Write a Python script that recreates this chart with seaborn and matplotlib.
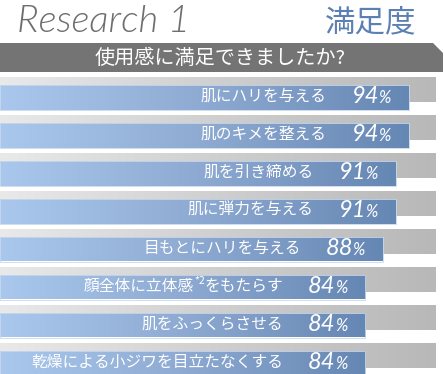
import seaborn as sns
import matplotlib.pyplot as plt
import matplotlib.patches as mpatches
from matplotlib.colors import LinearSegmentedColormap
import numpy as np
import pandas as pd

sns.set_style("white")
plt.rcParams['font.family'] = ['Noto Sans CJK JP', 'DejaVu Sans']

# data
items = ["肌にハリを与える", "肌のキメを整える", "肌を引き締める", "肌に弾力を与える",
         "目もとにハリを与える", "顔全体に立体感*2をもたらす", "肌をふっくらさせる",
         "乾燥による小ジワを目立たなくする"]
pct = [94, 94, 91, 91, 88, 84, 84, 84]
full = [100] * len(items)

title_en = "Research 1"
title_jp = "満足度"
question = "使用感に満足できましたか?"

# layout in pixels (axes y unit = 1 px)
W, H = 444, 374
px_per_pct = 4.35
row0, pitch, bar_h, shift = 89.5, 38, 25, 7.5

rows = np.arange(len(items))
df = pd.DataFrame({
    "item": items,
    "pct": pct,
    "full": full,
    "y_back": row0 + pitch * rows,
    "y_front": row0 + shift + pitch * rows,
})

fig = plt.figure(figsize=(W / 100, H / 100), dpi=100)
ax = fig.add_axes([0, 0, 1, 1])

sns.barplot(data=df, x="full", y="y_back", orient="h", native_scale=True,
            width=bar_h / pitch, color="#d0d0d0", linewidth=0, ax=ax)
n_back = len(ax.patches)
sns.barplot(data=df, x="pct", y="y_front", orient="h", native_scale=True,
            width=bar_h / pitch, color="#8aa8d0", edgecolor="#c8d8ee",
            linewidth=0.6, ax=ax)

gray_cm = LinearSegmentedColormap.from_list("g", ["#e9e9e9", "#cfcfcf", "#b8b8b9"])
blue_cm = LinearSegmentedColormap.from_list("b", ["#aac8ed", "#8eaad2", "#6587b3"])
grad = np.linspace(0, 1, 256).reshape(1, -1)
for i, p in enumerate(list(ax.patches)):
    x0, y0, w, h = p.get_x(), p.get_y(), p.get_width(), p.get_height()
    cm = gray_cm if i < n_back else blue_cm
    im = ax.imshow(grad, cmap=cm, aspect="auto", extent=(x0, x0 + w, y0 + h, y0),
                   zorder=p.get_zorder() + 0.1 + (0.5 if i >= n_back else 0),
                   interpolation="bilinear")
    im.set_clip_path(p)
    if i >= n_back:
        p.set_zorder(p.get_zorder() + 0.8)
        p.set_facecolor("none")

ax.set_xlim(0, W / px_per_pct)
ax.set_ylim(H, 0)
ax.axis("off")

num_font = ["Lato", "DejaVu Sans"]

# header
ax.text(17 / px_per_pct, 32, title_en, fontsize=27.5, color="#6e6e6e",
        family=num_font, fontweight=300, style="italic",
        va="baseline", ha="left")
ax.text(416 / px_per_pct, 31, title_jp, fontsize=22, color="#5b80b3",
        va="baseline", ha="right")
hdr = mpatches.Polygon([(0, 43), (433 / px_per_pct, 43), (443 / px_per_pct, 53),
                        (443 / px_per_pct, 72), (0, 72)], closed=True,
                       facecolor="#747474", edgecolor="none", zorder=5)
ax.add_patch(hdr)
ax.text(220 / px_per_pct, 58, question, fontsize=14.5, color="white",
        ha="center", va="center", zorder=6)

# labels and values
for _, r in df.iterrows():
    yc = r["y_front"]
    ax.annotate("%", (r["pct"], yc), xytext=(-18, -6), textcoords="offset pixels",
                ha="right", va="baseline", fontsize=12, color="white", style="italic",
                family=num_font, zorder=10)
    ax.annotate(str(r["pct"]), (r["pct"], yc), xytext=(-30, -6), textcoords="offset pixels",
                ha="right", va="baseline", fontsize=17, color="white", style="italic",
                family=num_font, zorder=10)
    label = r["item"]
    if "*2" in label:
        left, right = label.split("*2")
        t1 = ax.annotate(right, (r["pct"], yc), xytext=(-82, 1), textcoords="offset pixels",
                         ha="right", va="center", fontsize=11.3, color="white", zorder=10)
        fig.canvas.draw()
        w1 = t1.get_window_extent().width
        t2 = ax.annotate("*2", (r["pct"], yc), xytext=(-82 - w1, 6), textcoords="offset pixels",
                         ha="right", va="center", fontsize=7.5, color="white", zorder=10)
        fig.canvas.draw()
        w2 = t2.get_window_extent().width
        ax.annotate(left, (r["pct"], yc), xytext=(-82 - w1 - w2, 1), textcoords="offset pixels",
                    ha="right", va="center", fontsize=11.3, color="white", zorder=10)
    else:
        ax.annotate(label, (r["pct"], yc), xytext=(-82, 1), textcoords="offset pixels",
                    ha="right", va="center", fontsize=11.3, color="white", zorder=10)

fig.savefig("out.png", dpi=100)
plt.close(fig)
